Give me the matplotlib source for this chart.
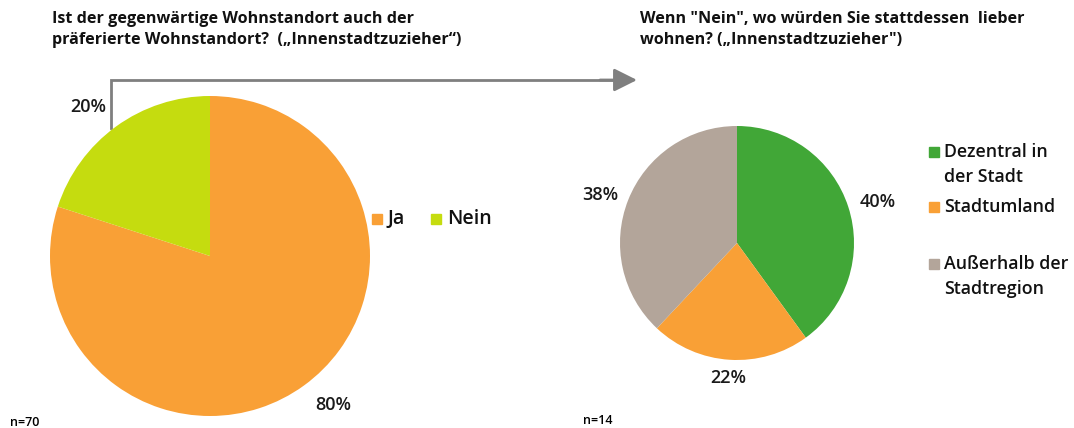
import matplotlib.pyplot as plt
from matplotlib.patches import Rectangle

plt.rcParams['font.family'] = ['Open Sans', 'DejaVu Sans']

# Daten
links_labels = ['Ja', 'Nein']
links_werte = [80, 20]
links_farben = ['#F9A036', '#C5DC0F']

rechts_labels = ['Dezentral in\nder Stadt', 'Stadtumland', 'Außerhalb der\nStadtregion']
rechts_werte = [40, 22, 38]
rechts_farben = ['#41A737', '#F9A036', '#B3A59A']

W, H = 1074, 428
fig = plt.figure(figsize=(W / 100, H / 100), dpi=100)


def pie_axes(cx, cy, r):
    return fig.add_axes([(cx - r) / W, (H - cy - r) / H, 2 * r / W, 2 * r / H])


# Overlay in Pixelkoordinaten
ov = fig.add_axes([0, 0, 1, 1])
ov.set_xlim(0, W)
ov.set_ylim(H, 0)
ov.axis('off')

# linker Kuchen
ax1 = pie_axes(210, 256, 160)
w1, _ = ax1.pie(links_werte, colors=links_farben, startangle=162,
                counterclock=True, radius=1)
ax1.set_xlim(-1, 1)
ax1.set_ylim(-1, 1)

# rechter Kuchen
ax2 = pie_axes(737, 243, 117)
w2, _ = ax2.pie(rechts_werte, colors=rechts_farben, startangle=90,
                counterclock=False, radius=1)
ax2.set_xlim(-1, 1)
ax2.set_ylim(-1, 1)

# Prozentangaben
pkt = dict(fontsize=13, fontweight='semibold', color='#1a1a1a', va='center', ha='center')
for (x, y), v in zip([(333, 405), (88, 107)], links_werte):
    ov.text(x, y, f'{v}%', **pkt)
for (x, y), v in zip([(878, 202), (728, 378), (600, 195)], rechts_werte):
    ov.text(x, y, f'{v}%', **pkt)

# Titel
tkw = dict(fontsize=11.6, fontweight='bold', color='#111111', va='top', ha='left',
           linespacing=1.45)
ov.text(52, 11, 'Ist der gegenwärtige Wohnstandort auch der\n'
        'präferierte Wohnstandort?  („Innenstadtzuzieher“)', **tkw)
ov.text(640, 11, 'Wenn "Nein", wo würden Sie stattdessen  lieber\n'
        'wohnen? („Innenstadtzuzieher")', **tkw)

# Pfeil
ov.plot([111, 111, 622], [128, 80, 80], color='#7F7F7F', lw=2, solid_joinstyle='miter')
ov.annotate('', xy=(637, 80), xytext=(600, 80),
            arrowprops=dict(arrowstyle='-|>,head_length=1.0,head_width=0.5',
                            color='#7F7F7F', lw=2, mutation_scale=14,
                            shrinkA=0, shrinkB=0))

# Legende links
lkw = dict(fontsize=14, color='#111111', va='center', ha='left', fontweight='semibold')
for x, lab, c in zip([372, 431], links_labels, links_farben):
    ov.add_patch(Rectangle((x, 214), 10, 10, color=c))
    ov.text(x + 16, 219, lab, **lkw)

# Legende rechts
for y, lab, c in zip([152, 207, 264], rechts_labels, rechts_farben):
    ov.add_patch(Rectangle((929, y - 5), 10, 10, color=c))
    ov.text(944, y - 9, lab, fontsize=12.8, color='#111111', va='top', ha='left',
            linespacing=1.5, fontweight='semibold')

# Stichprobengrößen
ov.text(10, 422, 'n=70', fontsize=9, fontweight='semibold', va='center', ha='left')
ov.text(583, 420, 'n=14', fontsize=9, fontweight='semibold', va='center', ha='left')

fig.savefig('out.png', dpi=100)
